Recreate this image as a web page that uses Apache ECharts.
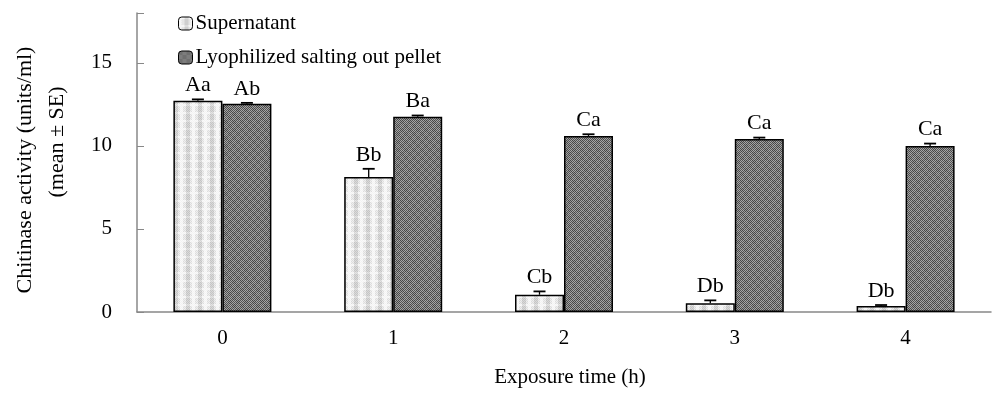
<!DOCTYPE html>
<html><head><meta charset="utf-8">
<script src="https://cdn.jsdelivr.net/npm/echarts@6/dist/echarts.min.js"></script>
<style>html,body{margin:0;padding:0;background:#fff}#c{width:995px;height:400px}</style>
</head><body><div id="c"></div>
<script>
var categories = ['0', '1', '2', '3', '4'];
var supernatant = [12.72, 8.12, 1.04, 0.52, 0.36];
var supernatantErr = [0.08, 0.5, 0.2, 0.18, 0.06];
var pellet = [12.53, 11.75, 10.6, 10.42, 10.0];
var pelletErr = [0.06, 0.08, 0.1, 0.08, 0.14];
var supLetters = ['Aa', 'Bb', 'Cb', 'Db', 'Db'];
var pelLetters = ['Ab', 'Ba', 'Ca', 'Ca', 'Ca'];
var seriesNames = ['Supernatant', 'Lyophilized salting out pellet'];
var yTitle1 = 'Chitinase activity (units/ml)';
var yTitle2 = '(mean ± SE)';
var xTitle = 'Exposure time (h)';

function makePattern(kind) {
  var c = document.createElement('canvas');
  var g, x, y;
  if (kind === 'dark') {
    c.width = 8; c.height = 8;
    g = c.getContext('2d');
    for (y = 0; y < 8; y++) for (x = 0; x < 8; x++) {
      var blk = ((x >> 2) + (y >> 2)) % 2 === 0;
      if ((x + y) % 2 === 0) g.fillStyle = blk ? '#454545' : '#525252';
      else g.fillStyle = blk ? '#9a9a9a' : '#a8a8a8';
      g.fillRect(x, y, 1, 1);
    }
  } else {
    var W = 12, H = 8;
    c.width = W; c.height = H;
    g = c.getContext('2d');
    for (y = 0; y < H; y++) for (x = 0; x < W; x++) {
      var dark = (x >= 6 && x <= 9);
      var lightCol = (x <= 2);
      var lightRow = (y <= 1);
      var hi, lo;
      if (dark && !lightRow) { hi = '#c4c4c4'; lo = '#dadada'; }
      else if (dark && lightRow) { hi = '#d4d4d4'; lo = '#e6e6e6'; }
      else if (lightCol || lightRow) { hi = '#f2f2f2'; lo = '#fafafa'; }
      else { hi = '#dcdcdc'; lo = '#f0f0f0'; }
      g.fillStyle = ((x + y) % 2 === 0) ? hi : lo;
      g.fillRect(x, y, 1, 1);
    }
  }
  return { image: c, repeat: 'repeat' };
}
var supFill = makePattern('light');
var pelFill = makePattern('dark');

var chart = echarts.init(document.getElementById('c'), null, { renderer: 'canvas' });
var font = 'Liberation Serif';

function errSeries(vals, errs, letters, offset) {
  var data = vals.map(function (v, i) { return [i, v, errs[i]]; });
  return {
    type: 'custom',
    z: 10,
    data: data,
    renderItem: function (params, api) {
      var i = api.value(0), v = api.value(1), e = api.value(2);
      var base = api.coord([i, v]);
      var top = api.coord([i, v + e]);
      var x = base[0] + offset;
      var y0 = base[1], y1 = top[1];
      var cap = 6;
      return {
        type: 'group',
        children: [
          { type: 'line', shape: { x1: x, y1: y0, x2: x, y2: y1 }, style: { stroke: '#000', lineWidth: 1.3 } },
          { type: 'line', shape: { x1: x - cap, y1: y1, x2: x + cap, y2: y1 }, style: { stroke: '#000', lineWidth: 1.8 } },
          { type: 'text', style: { text: letters[i], x: x, y: y1 - 3, textAlign: 'center', textVerticalAlign: 'bottom', font: '22px "Liberation Serif"', fill: '#000' } }
        ]
      };
    }
  };
}

chart.setOption({
  animation: false,
  grid: { left: 137, right: 4, top: 13, bottom: 88 },
  legend: {
    left: 173, top: 8, orient: 'vertical', itemGap: 13,
    itemWidth: 14, itemHeight: 13,
    textStyle: { fontFamily: font, fontSize: 21, color: '#000', padding: [0, 0, 0, -2] },
    itemStyle: { borderColor: '#000', borderWidth: 1 },
    data: seriesNames
  },
  graphic: [
    { type: 'text', x: 25, y: 170, rotation: Math.PI / 2,
      style: { text: yTitle1, font: '22px "Liberation Serif"', fill: '#000', textAlign: 'center', textVerticalAlign: 'middle' } },
    { type: 'text', x: 57, y: 142, rotation: Math.PI / 2,
      style: { text: yTitle2, font: '22px "Liberation Serif"', fill: '#000', textAlign: 'center', textVerticalAlign: 'middle' } },
    { type: 'text', x: 570, y: 377,
      style: { text: xTitle, font: '21px "Liberation Serif"', fill: '#000', textAlign: 'center', textVerticalAlign: 'middle' } }
  ],
  xAxis: {
    type: 'category', data: categories,
    axisLine: { lineStyle: { color: '#888', width: 1.5 } },
    axisTick: { inside: true, length: 7, lineStyle: { color: '#888' } },
    axisLabel: { fontFamily: font, fontSize: 21, color: '#000', margin: 16 }
  },
  yAxis: {
    type: 'value', min: 0, max: 18, interval: 5,
    axisLine: { show: true, lineStyle: { color: '#888', width: 1.5 } },
    axisTick: { show: true, inside: true, length: 7, lineStyle: { color: '#888' } },
    axisLabel: { fontFamily: font, fontSize: 21, color: '#000', margin: 25,
      formatter: function (v) { return v % 5 === 0 ? v : ''; } },
    splitLine: { show: false }
  },
  series: [
    { name: seriesNames[0], type: 'bar', data: supernatant, barWidth: 49, barGap: '0%',
      itemStyle: { color: supFill, borderColor: '#000', borderWidth: 1.5 } },
    { name: seriesNames[1], type: 'bar', data: pellet, barWidth: 49,
      itemStyle: { color: pelFill, borderColor: '#000', borderWidth: 1.5 } },
    errSeries(supernatant, supernatantErr, supLetters, -24.5),
    errSeries(pellet, pelletErr, pelLetters, 24.5)
  ]
});
</script></body></html>
